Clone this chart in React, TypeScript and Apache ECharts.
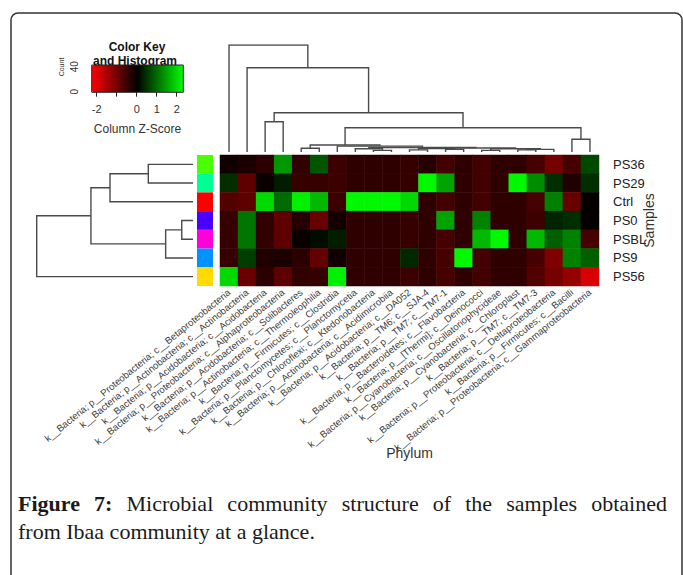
import React, { useEffect, useRef } from "react";
import * as echarts from "echarts";

// ---------- data ----------
const phyla = [
  "k__Bacteria; p__Proteobacteria; c__Betaproteobacteria",
  "k__Bacteria; p__Actinobacteria; c__Actinobacteria",
  "k__Bacteria; p__Acidobacteria; c__Acidobacteria",
  "k__Bacteria; p__Proteobacteria; c__Alphaproteobacteria",
  "k__Bacteria; p__Acidobacteria; c__Solibacteres",
  "k__Bacteria; p__Actinobacteria; c__Thermoleophilia",
  "k__Bacteria; p__Firmicutes; c__Clostridia",
  "k__Bacteria; p__Planctomycetes; c__Planctomycetia",
  "k__Bacteria; p__Chloroflexi; c__Ktedonobacteria",
  "k__Bacteria; p__Actinobacteria; c__Acidimicrobiia",
  "k__Bacteria; p__Acidobacteria; c__DA052",
  "k__Bacteria; p__TM6; c__SJA-4",
  "k__Bacteria; p__TM7; c__TM7-1",
  "k__Bacteria; p__Bacteroidetes; c__Flavobacteria",
  "k__Bacteria; p__[Thermi]; c__Deinococci",
  "k__Bacteria; p__Cyanobacteria; c__Oscillatoriophycideae",
  "k__Bacteria; p__Cyanobacteria; c__Chloroplast",
  "k__Bacteria; p__TM7; c__TM7-3",
  "k__Bacteria; p__Proteobacteria; c__Deltaproteobacteria",
  "k__Bacteria; p__Firmicutes; c__Bacilli",
  "k__Bacteria; p__Proteobacteria; c__Gammaproteobacteria",
];

const samples = ["PS36", "PS29", "Ctrl", "PS0", "PSBL", "PS9", "PS56"];
const sampleColors = ["#49FF00", "#00FF92", "#FF0000", "#4900FF", "#FF00DB", "#0092FF", "#FFDB00"];

// column z-scores per sample (21 phyla each)
const zPS36 = [-0.1, -0.2, -0.35, 1.4, -0.4, 0.8, -0.5, -0.38, -0.38, -0.38, -0.45, -0.3, -0.55, -0.38, -0.55, -0.38, -0.38, -0.6, -1.0, -0.6, 0.7];
const zPS29 = [0.45, -0.8, -0.05, 0.3, -0.45, -0.45, -0.5, -0.38, -0.38, -0.38, -0.45, 2.27, 1.5, -0.38, -0.55, -0.38, 2.27, 1.3, 0.45, -0.25, 0.45];
const zCtrl = [-0.7, -0.8, 2.0, 1.0, 2.2, 1.7, -0.5, 2.27, 2.27, 2.27, 2.0, -0.38, -0.55, -0.38, -0.55, -0.38, -0.38, -0.6, 1.2, -0.9, 0.0];
const zPS0 = [-0.45, 1.1, -0.4, -0.8, -0.3, -0.9, -0.15, -0.38, -0.38, -0.38, -0.45, -0.38, 1.5, -0.38, 1.2, -0.38, -0.38, -0.5, 0.35, 0.45, 0.0];
const zPSBL = [-0.45, 1.1, -0.4, -0.8, -0.05, 0.15, 0.3, -0.38, -0.38, -0.38, -0.45, -0.38, -0.6, -0.38, 1.7, 2.27, -0.38, 1.7, 0.9, 1.2, -0.6];
const zPS9 = [-0.45, 0.6, -0.25, -0.2, -0.35, -0.85, -0.1, -0.38, -0.38, -0.38, 0.4, -0.38, -0.6, 2.27, -0.55, -0.38, -0.38, -0.6, -1.1, 1.2, 0.9];
const zPS56 = [2.0, -0.9, -0.35, -0.8, -0.4, -0.45, 2.2, -0.38, -0.38, -0.38, -0.5, -0.38, -0.6, -0.38, -0.55, -0.38, -0.38, -0.7, -1.0, -1.3, -1.9];
const zRows = [zPS36, zPS29, zCtrl, zPS0, zPSBL, zPS9, zPS56];

// dendrograms: [left, right, mergeHeight]; leaves are column / row indices
type Node = number | [Node, Node, number];
const colTree: Node = [
  0,
  [
    1,
    [
      [2, 3, 2.83],
      [
        [
          [4, 5, 0.35],
          [
            6,
            [
              [7, [8, 9, 0.15], 0.3],
              [
                [[10, 11, 0.2], [12, 13, 0.25], 0.33],
                [[14, 15, 0.15], [[16, 17, 0.2], 18, 0.25], 0.3],
                0.38,
              ],
              0.42,
            ],
            0.55,
          ],
          0.65,
        ],
        [19, 20, 1.19],
        2.27,
      ],
      3.67,
    ],
    7.88,
  ],
  10,
];
const rowTree: Node = [[[[0, 1, 2.86], 2, 5.31], [[3, 4, 0.72], 5, 1.75], 6.53], 6, 10];

const keyMin = -2.25;
const keyMax = 2.33;
const keyTicks = [-2, -1, 0, 1, 2];
const keyLabels = [-2, 0, 1, 2];
const countTicks = [0, 10, 20, 30, 40];
const countLabels = [0, 40];

const captionLine1 = ["Microbial", "community", "structure", "of", "the", "samples", "obtained"];
const captionBold = ["Figure", "7:"];
const captionLine2 = "from Ibaa community at a glance.";

// ---------- helpers ----------
function dendro(tree: Node, swap: boolean) {
  const segs: any[] = [];
  const walk = (n: Node): { p: number; h: number } => {
    if (typeof n === "number") return { p: n + 0.5, h: 0 };
    const l = walk(n[0]);
    const r = walk(n[1]);
    const h = n[2];
    const pts = [
      [l.p, l.h],
      [l.p, h],
      [r.p, h],
      [r.p, r.h],
    ];
    segs.push({ coords: swap ? pts.map(([a, b]) => [b, a]) : pts });
    return { p: (l.p + r.p) / 2, h };
  };
  walk(tree);
  return segs;
}

const SANS = "'Liberation Sans', Arial, sans-serif";
const SERIF = "'Liberation Serif', 'Times New Roman', serif";

function measure(text: string, font: string) {
  const c = document.createElement("canvas").getContext("2d")!;
  c.font = font;
  return c.measureText(text).width;
}

export default function App() {
  const ref = useRef<HTMLDivElement>(null);
  useEffect(() => {
    if (!ref.current) return;
    const chart = echarts.init(ref.current, undefined, { renderer: "svg" });

    const heat: any[] = [];
    zRows.forEach((row, r) => row.forEach((v, c) => heat.push([c, r, v])));

    // caption layout (justified first line)
    const fs = 22;
    const boldFont = `bold ${fs}px 'Liberation Serif'`;
    const normFont = `${fs}px 'Liberation Serif'`;
    const words = [
      ...captionBold.map((w) => ({ w, bold: true })),
      ...captionLine1.map((w) => ({ w, bold: false })),
    ];
    const widths = words.map((o) => measure(o.w, o.bold ? boldFont : normFont));
    const x0 = 18;
    const x1 = 667;
    const total = widths.reduce((a, b) => a + b, 0);
    const gap = (x1 - x0 - total) / (words.length - 1);
    let cx = x0;
    const captionEls: any[] = words.map((o, i) => {
      const el = {
        type: "text",
        x: cx,
        y: 503,
        style: {
          text: o.w,
          fontFamily: SERIF,
          fontSize: fs,
          fontWeight: o.bold ? "bold" : "normal",
          fill: "#1a1a1a",
          textAlign: "left",
          textVerticalAlign: "middle",
        },
      };
      cx += widths[i] + gap;
      return el;
    });
    captionEls.push({
      type: "text",
      x: x0,
      y: 531,
      style: {
        text: captionLine2,
        fontFamily: SERIF,
        fontSize: fs,
        fill: "#1a1a1a",
        textAlign: "left",
        textVerticalAlign: "middle",
      },
    });

    const hidden = { show: false };

    chart.setOption({
      animation: false,
      backgroundColor: "#fff",
      textStyle: { fontFamily: SANS },
      grid: [
        { left: 220, top: 155, width: 379, height: 131 },
        { left: 220, top: 45, width: 379, height: 107 },
        { left: 36.7, top: 155, width: 156.3, height: 131 },
        { left: 197, top: 155, width: 16, height: 131 },
        { left: 91.7, top: 65, width: 91.6, height: 27.3, show: true, borderColor: "#222", borderWidth: 1, z: 10 },
      ],
      xAxis: [
        {
          gridIndex: 0,
          type: "category",
          data: phyla,
          axisLine: { show: false },
          axisTick: { show: false },
          axisLabel: { interval: 0, rotate: 39, fontSize: 9.6, margin: 5, color: "#3a3a3a", fontFamily: SANS },
          name: "Phylum",
          nameLocation: "middle",
          nameGap: 160,
          nameMoveOverlap: false,
          nameTextStyle: { fontSize: 14, color: "#333", fontFamily: SANS },
        },
        { gridIndex: 1, type: "value", min: 0, max: 21, ...hidden },
        { gridIndex: 2, type: "value", min: 0, max: 10, inverse: true, ...hidden },
        { gridIndex: 3, type: "value", min: 0, max: 1, ...hidden },
        {
          gridIndex: 4,
          type: "value",
          min: keyMin,
          max: keyMax,
          offset: 3,
          axisLine: { show: false },
          splitLine: { show: false },
          axisTick: { show: true, customValues: keyTicks, length: 5, lineStyle: { color: "#222" } },
          axisLabel: { customValues: keyLabels, fontSize: 11, color: "#333", margin: 8 },
          name: "Column Z-Score",
          nameLocation: "middle",
          nameGap: 28,
          nameMoveOverlap: false,
          nameTextStyle: { fontSize: 12, color: "#333" },
        },
      ],
      yAxis: [
        {
          gridIndex: 0,
          type: "category",
          data: samples,
          inverse: true,
          position: "right",
          axisLine: { show: false },
          axisTick: { show: false },
          axisLabel: { fontSize: 13, margin: 14, color: "#222" },
          name: "Samples",
          nameLocation: "middle",
          nameRotate: 90,
          nameGap: 43,
          nameMoveOverlap: false,
          nameTextStyle: { fontSize: 14, color: "#333" },
        },
        { gridIndex: 1, type: "value", min: 0, max: 10, ...hidden },
        { gridIndex: 2, type: "value", min: 0, max: 7, inverse: true, ...hidden },
        { gridIndex: 3, type: "category", data: samples, inverse: true, ...hidden },
        {
          gridIndex: 4,
          type: "value",
          min: -1,
          max: 42.7,
          axisLine: { show: false },
          splitLine: { show: false },
          axisTick: { show: true, customValues: countTicks, length: 6, lineStyle: { color: "#222" } },
          axisLabel: { customValues: countLabels, rotate: 90, fontSize: 10, color: "#333", margin: 12 },
        },
      ],
      visualMap: {
        type: "continuous",
        seriesIndex: 0,
        min: keyMin,
        max: keyMax,
        orient: "horizontal",
        left: 91.7,
        top: 65,
        itemWidth: 27.3,
        itemHeight: 91.6,
        padding: 0,
        calculable: false,
        hoverLink: false,
        inRange: { color: ["#FF0000", "#000000", "#00FF00"] },
      },
      series: [
        {
          type: "heatmap",
          xAxisIndex: 0,
          yAxisIndex: 0,
          data: heat,
          itemStyle: { borderWidth: 0 },
          emphasis: { disabled: true },
        },
        {
          type: "lines",
          coordinateSystem: "cartesian2d",
          xAxisIndex: 1,
          yAxisIndex: 1,
          polyline: true,
          data: dendro(colTree, false),
          lineStyle: { color: "#4a4a4a", width: 1.4, opacity: 1, curveness: 0 },
          silent: true,
        },
        {
          type: "lines",
          coordinateSystem: "cartesian2d",
          xAxisIndex: 2,
          yAxisIndex: 2,
          polyline: true,
          data: dendro(rowTree, true),
          lineStyle: { color: "#4a4a4a", width: 1.4, opacity: 1, curveness: 0 },
          silent: true,
        },
        {
          type: "custom",
          xAxisIndex: 3,
          yAxisIndex: 3,
          data: samples.map((s, i) => [0, i]),
          encode: { x: 0, y: 1 },
          renderItem: (params: any, api: any) => {
            const r = api.value(1);
            const p0 = api.coord([0, r]);
            const p1 = api.coord([1, r]);
            const bh = api.size([0, 1])[1];
            return {
              type: "rect",
              shape: { x: p0[0], y: p0[1] - bh / 2, width: p1[0] - p0[0], height: bh },
              style: { fill: sampleColors[r] },
            };
          },
          silent: true,
        },
      ],
      graphic: [
        {
          type: "rect",
          silent: true,
          z: -10,
          shape: { x: 11, y: 13, width: 671, height: 620, r: 7 },
          style: { fill: "none", stroke: "#333", lineWidth: 1.5 },
        },
        {
          type: "text",
          x: 137,
          y: 47,
          style: { text: "Color Key", fontFamily: SANS, fontSize: 12, fontWeight: "bold", fill: "#111", textAlign: "center", textVerticalAlign: "middle" },
        },
        {
          type: "text",
          x: 135,
          y: 61,
          style: { text: "and Histogram", fontFamily: SANS, fontSize: 12, fontWeight: "bold", fill: "#111", textAlign: "center", textVerticalAlign: "middle" },
        },
        {
          type: "text",
          x: 61,
          y: 67,
          rotation: Math.PI / 2,
          style: { text: "Count", fontFamily: SANS, fontSize: 7, fill: "#333", textAlign: "center", textVerticalAlign: "middle" },
        },
        ...captionEls,
      ],
    });
    return () => chart.dispose();
  }, []);
  return <div ref={ref} style={{ position: "fixed", left: 0, top: 0, width: 683, height: 575 }} />;
}
